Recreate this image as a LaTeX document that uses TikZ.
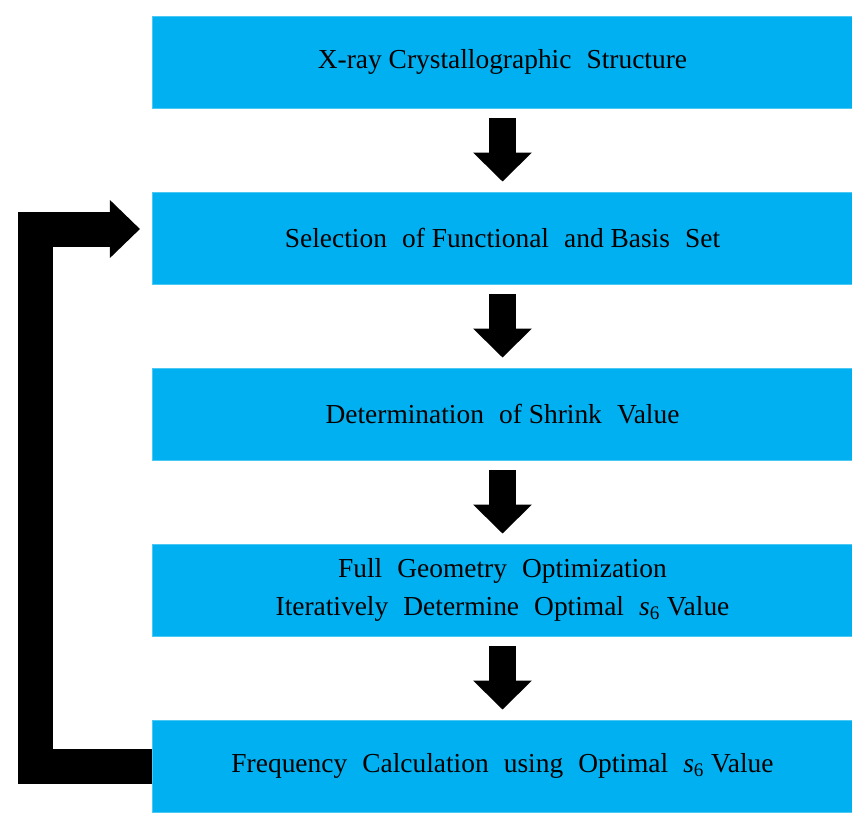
\documentclass[tikz,border=0pt]{standalone}
\usepackage{fontspec}
\setmainfont{Liberation Serif}
\usetikzlibrary{arrows.meta}
\definecolor{boxblue}{RGB}{0,176,240}
\newcommand{\gap}{\hspace{0.55em}}
\newcommand{\sval}{\textit{s}\textsubscript{6}}
\begin{document}
\begin{tikzpicture}[x=0.025cm,y=-0.025cm,
  stage/.style={fill=boxblue,draw=boxblue!70!white,line width=0.6pt,minimum width=17.475cm,minimum height=2.3cm,font=\rmfamily\fontsize{19.5}{26}\selectfont,align=center,inner sep=0pt},
  down/.style={line width=0.675cm,-{Triangle[length=0.725cm,width=1.425cm]},shorten <=10*0.025cm,shorten >=10*0.025cm},
  back/.style={line width=0.875cm,line join=miter,-{Triangle[length=0.75cm,width=1.4cm]}}]
\useasboundingbox (0,0) rectangle (852,816);
\node[stage] (xray) at (502.5,62) {X-ray Crystallographic\gap Structure};
\node[stage] (select) at (502.5,238) {Selection\gap of Functional\gap and Basis\gap Set};
\node[stage] (shrink) at (502.5,414) {Determination\gap of Shrink\gap Value};
\node[stage] (geom) at (502.5,590) {Full\gap Geometry\gap Optimization\\[1pt]Iteratively\gap Determine\gap Optimal\gap \sval\ Value};
\node[stage] (freq) at (502.5,766) {Frequency\gap Calculation\gap using\gap Optimal\gap \sval\ Value};
\coordinate (ret) at (140,229);
\draw[down] (xray) -- (select);
\draw[down] (select) -- (shrink);
\draw[down] (shrink) -- (geom);
\draw[down] (geom) -- (freq);
\draw[back] (freq.west) -- ++(-117,0) |- (ret);
\end{tikzpicture}
\end{document}
